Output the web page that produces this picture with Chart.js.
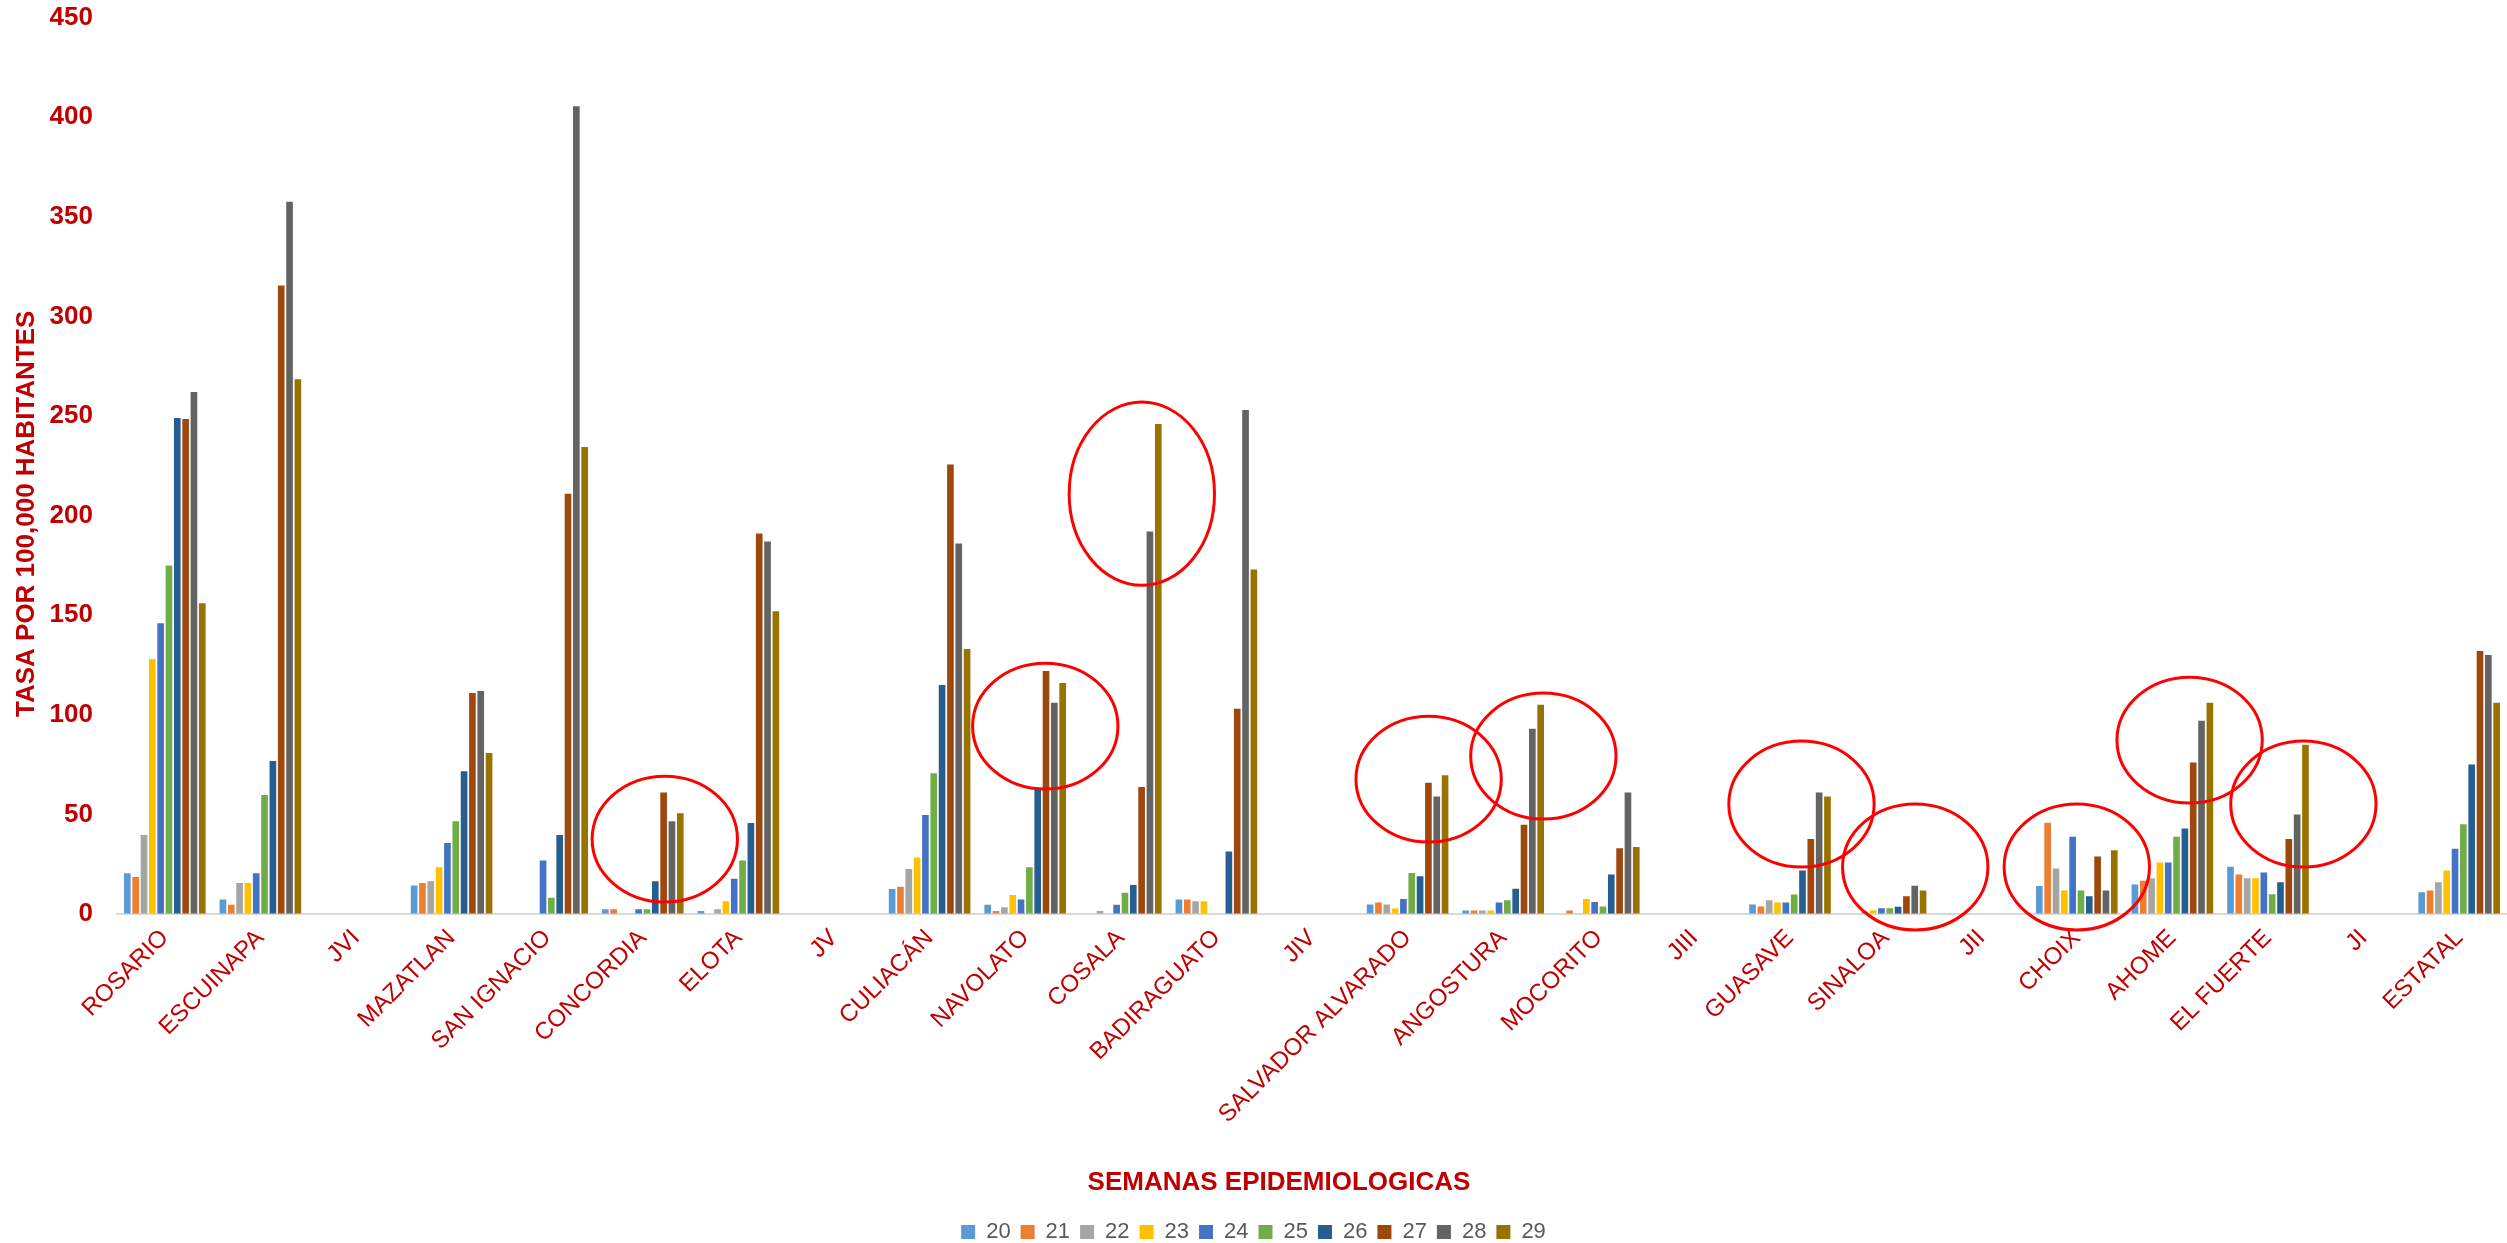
<!DOCTYPE html>
<html>
<head>
<meta charset="utf-8">
<script src="https://cdn.jsdelivr.net/npm/chart.js@4.4.1/dist/chart.umd.min.js"></script>
<style>
  body { margin: 0; background: #fff; }
  #wrap { width: 2507px; height: 1243px; position: relative; }
</style>
</head>
<body>
<div id="wrap"><canvas id="myChart"></canvas></div>
<script>
// municipios (empty slots keep the jurisdiction labels)
var municipios = ["ROSARIO", "ESCUINAPA", "JVI", "MAZATLAN", "SAN IGNACIO", "CONCORDIA", "ELOTA", "JV",
  "CULIACÁN", "NAVOLATO", "COSALA", "BADIRAGUATO", "JIV", "SALVADOR ALVARADO", "ANGOSTURA", "MOCORITO",
  "JIII", "GUASAVE", "SINALOA", "JII", "CHOIX", "AHOME", "EL FUERTE", "JI", "ESTATAL"];

var semanas = ["20", "21", "22", "23", "24", "25", "26", "27", "28", "29"];

// tasa por 100,000 habitantes, one array per semana
var sem20 = [20.4, 7.3, null, 14.3, 0, 2.4, 1.5, null, 12.5, 4.6, 0, 7.3, null, 4.8, 1.7, 0, null, 4.8, 0, null, 14, 14.8, 23.7, null, 10.9];
var sem21 = [18.6, 4.6, null, 15.5, 0, 2.4, 0, null, 13.7, 1.5, 0, 7.3, null, 5.8, 1.7, 1.7, null, 3.75, 0, null, 45.8, 16.7, 19.8, null, 11.8];
var sem22 = [39.6, 15.5, null, 16.5, 0, 0, 2.4, null, 22.6, 3.4, 1.5, 6.4, null, 4.8, 1.7, 0, null, 6.9, 1.2, null, 22.9, 17.9, 17.9, null, 15.9];
var sem23 = [128, 15.5, null, 23.5, 0, 0, 6.4, null, 28.4, 9.5, 0, 6.4, null, 2.7, 1.7, 7.5, null, 5.8, 1.9, null, 11.8, 25.8, 17.9, null, 21.9];
var sem24 = [146, 20.4, null, 35.7, 26.8, 2.4, 17.7, null, 49.7, 7.3, 4.6, 0, null, 7.5, 5.8, 6, null, 5.8, 2.9, null, 38.8, 25.8, 20.8, null, 32.8];
var sem25 = [175, 59.8, null, 46.6, 8.2, 2.4, 26.8, null, 70.7, 23.5, 10.7, 0, null, 20.6, 6.9, 3.75, null, 9.8, 2.9, null, 11.8, 38.8, 9.9, null, 45];
var sem26 = [249, 76.8, null, 71.6, 39.6, 16.5, 45.7, null, 115, 63.4, 14.6, 31.4, null, 19, 12.7, 19.8, null, 21.9, 3.7, null, 8.9, 42.9, 15.9, null, 75];
var sem27 = [248.5, 315.5, null, 111, 211, 61, 191, null, 225.6, 122, 63.7, 103, null, 65.9, 44.8, 33, null, 37.7, 8.9, null, 28.9, 76, 37.7, null, 132];
var sem28 = [262, 357.5, null, 112, 405.5, 46.6, 187, null, 186, 106, 192, 253, null, 59, 93, 61, null, 61, 14.2, null, 11.8, 97, 49.9, null, 130];
var sem29 = [156, 268.5, null, 80.8, 234.5, 50.6, 152, null, 133, 116, 246, 173, null, 69.7, 105, 33.6, null, 59, 11.8, null, 32, 106, 85, null, 106];

var yTicks = [0, 50, 100, 150, 200, 250, 300, 350, 400, 450];

var colores = ["#5B9BD5", "#ED7D31", "#A5A5A5", "#FFC000", "#4472C4", "#70AD47", "#255E91", "#9E480E", "#636363", "#997300"];
var series = [sem20, sem21, sem22, sem23, sem24, sem25, sem26, sem27, sem28, sem29];

// red circles marking municipios of interest (center: category + shift, value)
var circulos = [
  { cat: "CONCORDIA", shift: 0.23, val: 37.6, ry: 31.6 },
  { cat: "NAVOLATO", shift: 0.21, val: 94.3, ry: 31.6 },
  { cat: "COSALA", shift: 0.22, val: 211, ry: 46 },
  { cat: "SALVADOR ALVARADO", shift: 0.22, val: 67.7, ry: 31.6 },
  { cat: "ANGOSTURA", shift: 0.42, val: 79.3, ry: 31.6 },
  { cat: "GUASAVE", shift: 0.12, val: 55.2, ry: 31.6 },
  { cat: "SINALOA", shift: 0.31, val: 23.6, ry: 31.6 },
  { cat: "CHOIX", shift: 0, val: 23.6, ry: 31.6 },
  { cat: "AHOME", shift: 0.18, val: 87.3, ry: 31.6 },
  { cat: "EL FUERTE", shift: 0.37, val: 55.2, ry: 31.6 },
];

var rojo = "#C00000";
var fuente = "'Liberation Sans', Arial, sans-serif";

var circlePlugin = {
  id: "circulos",
  afterDatasetsDraw: function (chart) {
    var ctx = chart.ctx;
    var xs = chart.scales.x, ys = chart.scales.y;
    var catW = xs.width / municipios.length;
    ctx.save();
    ctx.strokeStyle = "#FF0000";
    ctx.lineWidth = 3;
    circulos.forEach(function (c) {
      var cx = xs.getPixelForValue(municipios.indexOf(c.cat)) + c.shift * catW;
      var cy = ys.getPixelForValue(c.val);
      var ry = Math.abs(ys.getPixelForValue(0) - ys.getPixelForValue(c.ry));
      ctx.beginPath();
      ctx.ellipse(cx, cy, 0.76 * catW, ry, 0, 0, Math.PI * 2);
      ctx.stroke();
    });
    ctx.restore();
  },
};

// axis titles drawn by hand so they sit where Excel put them
var titlePlugin = {
  id: "titulos",
  afterDraw: function (chart) {
    var ctx = chart.ctx;
    var area = chart.chartArea;
    ctx.save();
    ctx.fillStyle = rojo;
    ctx.font = "bold 26px " + fuente;
    ctx.textAlign = "center";
    ctx.textBaseline = "middle";
    ctx.fillText("SEMANAS EPIDEMIOLOGICAS", (area.left + area.right) / 2 - 33, area.bottom + 269);
    ctx.translate(27, (area.top + area.bottom) / 2 + 48);
    ctx.rotate(-Math.PI / 2);
    ctx.fillText("TASA POR 100,000 HABITANTES", 0, 0);
    ctx.restore();
  },
};

var ctx = document.getElementById("myChart").getContext("2d");
var myChart = new Chart(ctx, {
  type: "bar",
  data: {
    labels: municipios,
    datasets: semanas.map(function (s, i) {
      return {
        label: s,
        data: series[i],
        backgroundColor: colores[i],
        borderWidth: 0,
        barPercentage: 0.8,
        categoryPercentage: 0.871,
      };
    }),
  },
  options: {
    responsive: true,
    maintainAspectRatio: false,
    animation: false,
    layout: {
      padding: { left: 0, right: 0, top: 0, bottom: -10 },
    },
    plugins: {
      legend: {
        display: true,
        position: "bottom",
        labels: {
          boxWidth: 14,
          boxHeight: 14,
          padding: 10,
          color: "#595959",
          font: { family: fuente, size: 22 },
        },
      },
      tooltip: { enabled: false },
    },
    scales: {
      x: {
        afterFit: function (scale) { scale.height = 297; },
        grid: { display: false, drawTicks: false },
        border: { display: true, color: "#D9D9D9", width: 2 },
        ticks: {
          autoSkip: false,
          maxRotation: 45,
          minRotation: 45,
          padding: 10,
          color: rojo,
          font: { family: fuente, size: 24 },
        },
      },
      y: {
        min: 0,
        max: 450,
        afterBuildTicks: function (axis) {
          axis.ticks = yTicks.map(function (v) { return { value: v }; });
        },
        afterFit: function (scale) { scale.width = 117; },
        grid: { display: true, drawOnChartArea: false, drawTicks: true, tickLength: 22, tickColor: "rgba(0,0,0,0)" },
        border: { display: false },
        ticks: {
          padding: 2,
          color: rojo,
          font: { family: fuente, size: 26, weight: "bold" },
        },
      },
    },
  },
  plugins: [circlePlugin, titlePlugin],
});
</script>
</body>
</html>
